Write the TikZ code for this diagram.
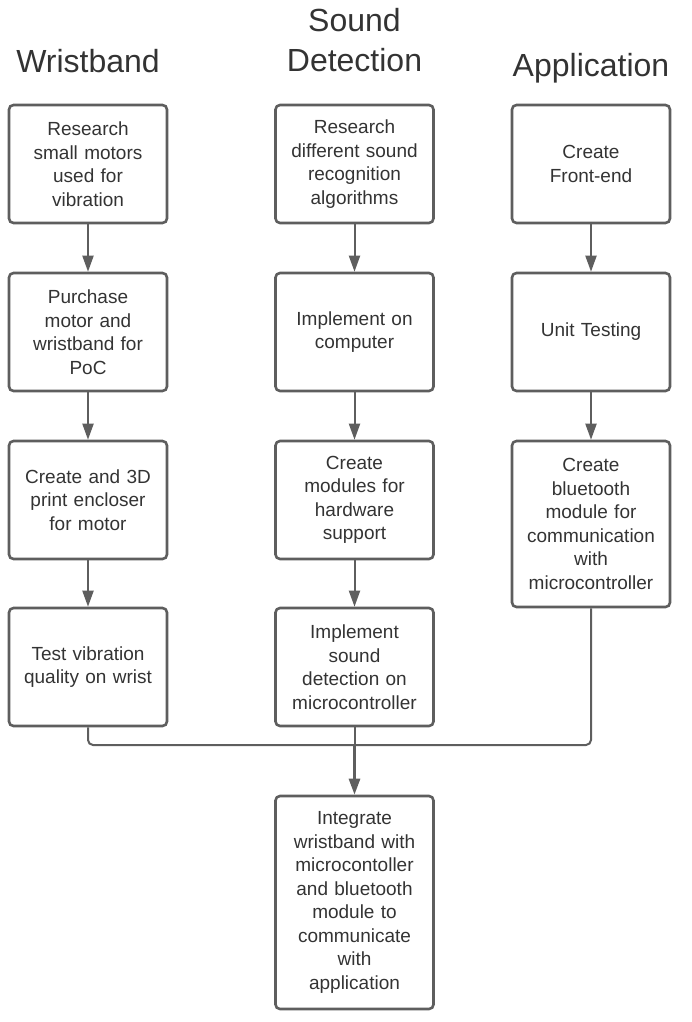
\documentclass[tikz,border=0pt]{standalone}
\usepackage{fontspec}
\setmainfont{Liberation Sans}
\usetikzlibrary{arrows.meta}
\definecolor{linec}{HTML}{5E5E5E}
\definecolor{textc}{HTML}{333333}
\tikzset{
  stepbox/.style={draw=linec, line width=2.6pt, rounded corners=4.5pt,
    minimum width=158pt, minimum height=118pt, text width=150pt, align=center,
    text=textc, font=\fontsize{19}{23.5}\selectfont, inner sep=0pt},
  heading/.style={text=textc, font=\fontsize{32}{39}\selectfont, anchor=base, inner sep=0pt},
  conn/.style={draw=linec, line width=2pt},
  arr/.style={conn, -{Triangle[length=16pt,width=11pt]}},
}
\begin{document}
\begin{tikzpicture}[x=1pt,y=-1pt]
\useasboundingbox (0,0) rectangle (692,1022);
% headings
\node[heading] (hw) at (88,73) {Wristband};
\node[heading] (hs1) at (354.5,32) {Sound};
\node[heading] (hs2) at (354.5,72) {Detection};
\node[heading] (ha) at (591,77) {Application};
% column 1
\node[stepbox] (w1) at (88,164) {Research\\small motors\\used for\\vibration};
\node[stepbox] (w2) at (88,332) {Purchase\\motor and\\wristband for\\PoC};
\node[stepbox] (w3) at (88,500) {Create and 3D\\print encloser\\for motor};
\node[stepbox] (w4) at (88,667) {Test vibration\\quality on wrist};
% column 2
\node[stepbox] (s1) at (354.5,164) {Research\\different sound\\recognition\\algorithms};
\node[stepbox] (s2) at (354.5,332) {Implement on\\computer};
\node[stepbox] (s3) at (354.5,500) {Create\\modules for\\hardware\\support};
\node[stepbox] (s4) at (354.5,667) {Implement\\sound\\detection on\\microcontroller};
% column 3
\node[stepbox] (a1) at (591,164) {Create\\Front-end};
\node[stepbox] (a2) at (591,332) {Unit Testing};
\node[stepbox, minimum height=166pt] (a3) at (591,524) {Create\\bluetooth\\module for\\communication\\with\\microcontroller};
% final
\node[stepbox, minimum height=213pt] (f) at (354.5,902.5) {Integrate\\wristband with\\microcontoller\\and bluetooth\\module to\\communicate\\with\\application};
% connectors
\draw[arr] (w1) -- (w2);
\draw[arr] (w2) -- (w3);
\draw[arr] (w3) -- (w4);
\draw[arr] (s1) -- (s2);
\draw[arr] (s2) -- (s3);
\draw[arr] (s3) -- (s4);
\draw[arr] (a1) -- (a2);
\draw[arr] (a2) -- (a3);
\coordinate (j) at (354.5,745);
\draw[conn, rounded corners=5pt] (w4.south) |- (j) -| (a3.south);
\draw[conn] (s4.south) -- (j);
\draw[arr, line width=2.8pt] (j) -- (f.north);
\end{tikzpicture}
\end{document}
